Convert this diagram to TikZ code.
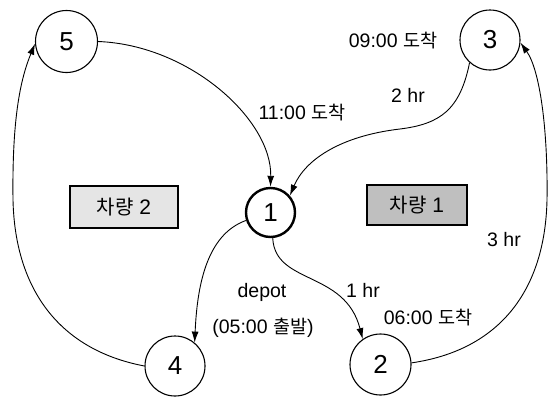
\documentclass[tikz,border=0pt]{standalone}
\usepackage{fontspec}
\setmainfont{Liberation Sans}
\newfontfamily\kr{Noto Sans CJK KR}[Scale=0.95]
\usetikzlibrary{arrows.meta}
\tikzset{
  stop/.style={draw, circle, line width=1.1pt, inner sep=0pt,
    font=\fontsize{26}{28}\selectfont},
  depotstop/.style={stop, line width=2.4pt},
  route/.style={line width=0.9pt, -{Latex[length=11pt,width=7pt]}},
  tag/.style={font=\fontsize{19.5}{22}\selectfont, inner sep=0pt},
  fleet/.style={draw, line width=1.8pt, inner sep=0pt,
    font=\fontsize{21}{23}\selectfont},
}
\begin{document}
\begin{tikzpicture}[x=1pt, y=-1pt]
\useasboundingbox (0,0) rectangle (551,399);

% customer stops and the depot
\node[stop, minimum size=62pt] (n5) at (66.5,41.5) {5};
\node[stop, minimum size=60pt] (n3) at (490,40) {3};
\node[depotstop, minimum size=49pt] (n1) at (270.5,212.5) {1};
\node[stop, minimum size=60pt] (n4) at (175,366) {4};
\node[stop, minimum size=61pt] (n2) at (380.5,364.5) {2};

% vehicle labels
\node[fleet, fill=black!10, minimum width=108pt, minimum height=42pt]
  (v2) at (124,207) {{\kr 차량} 2};
\node[fleet, fill=black!25, minimum width=100pt, minimum height=40pt]
  (v1) at (417,205) {{\kr 차량} 1};

% vehicle 1: 1 -> 2 -> 3 -> 1
\draw[route] (n1.275) .. controls (275,285) and (345,270) .. (n2.125);
\draw[route] (n2.3) .. controls (500,350) and (545,290) .. (547,200)
  .. controls (548,130) and (540,70) .. (n3.355);
\draw[route] (n3.228) .. controls (460,110) and (440,124) .. (400,129)
  .. controls (340,136) and (305,160) .. (n1.41);

% vehicle 2: 1 -> 4 -> 5 -> 1
\draw[route] (n1.198) .. controls (205,235) and (197,290) .. (n4.50);
\draw[route] (n4.west) .. controls (60,350) and (15,290) .. (13,200)
  .. controls (12,120) and (20,80) .. (n5.184);
\draw[route] (n5.east) .. controls (190,45) and (272,120) .. (n1.north);

% times and durations
\node[tag] (t11) at (302,113) {11:00 {\kr 도착}};
\node[tag] (t09) at (393,41) {09:00 {\kr 도착}};
\node[tag] (h2) at (408,95) {2 hr};
\node[tag] (h3) at (504,240) {3 hr};
\node[tag] (h1) at (363,290) {1 hr};
\node[tag] (t06) at (428,318) {06:00 {\kr 도착}};
\node[tag] (dep) at (262,292) {depot};
\node[tag] (t05) at (263,328) {(05:00 {\kr 출발})};
\end{tikzpicture}
\end{document}
